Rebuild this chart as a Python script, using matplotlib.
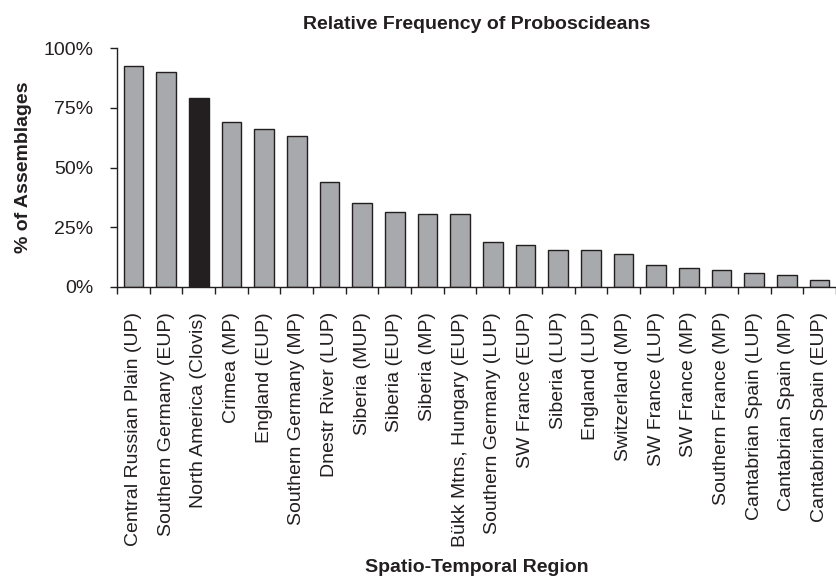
import matplotlib
matplotlib.use('Agg')
import matplotlib.pyplot as plt
import numpy as np

regions = ['Central Russian Plain (UP)', 'Southern Germany (EUP)', 'North America (Clovis)',
           'Crimea (MP)', 'England (EUP)', 'Southern Germany (MP)', 'Dnestr River (LUP)',
           'Siberia (MUP)', 'Siberia (EUP)', 'Siberia (MP)', 'Bükk Mtns, Hungary (EUP)',
           'Southern Germany (LUP)', 'SW France (EUP)', 'Siberia (LUP)', 'England (LUP)',
           'Switzerland (MP)', 'SW France (LUP)', 'SW France (MP)', 'Southern France (MP)',
           'Cantabrian Spain (LUP)', 'Cantabrian Spain (MP)', 'Cantabrian Spain (EUP)']
freq = [92.7, 90.0, 79.1, 69.1, 66.3, 63.3, 43.9, 35.2, 31.6, 30.4, 30.4,
        18.8, 17.4, 15.3, 15.3, 13.7, 9.4, 8.0, 7.3, 5.9, 5.0, 2.9]
highlight = 'North America (Clovis)'

plt.rcParams['font.family'] = ['Liberation Sans', 'DejaVu Sans']
ink = '#231f20'

fig = plt.figure(figsize=(8.37, 5.78), dpi=100)
ax = fig.add_axes([117 / 837, 1 - 287 / 578, 719 / 837, (287 - 48.3) / 578])

x = np.arange(len(regions))
colors = [ink if r == highlight else '#a7a9ac' for r in regions]
ax.bar(x, freq, width=0.6, color=colors, edgecolor=ink, linewidth=1.0, zorder=2)

ax.set_xlim(-0.5, len(regions) - 0.5)
ax.set_ylim(0, 100)
ax.set_yticks([0, 25, 50, 75, 100])
ax.set_yticklabels(['0%', '25%', '50%', '75%', '100%'])
ax.set_xticks(x)
ax.set_xticklabels(regions, rotation=90)
# category boundaries get the little tick marks
ax.set_xticks(np.arange(len(regions) + 1) - 0.5, minor=True)

ax.tick_params(axis='x', which='major', length=0, pad=18, labelsize=14, colors=ink)
ax.tick_params(axis='x', which='minor', length=5, width=1, direction='out', color=ink)
ax.tick_params(axis='y', length=5, width=1, direction='out', pad=12, labelsize=14, colors=ink)

for s in ['top', 'right']:
    ax.spines[s].set_visible(False)
for s in ['left', 'bottom']:
    ax.spines[s].set_color(ink)
    ax.spines[s].set_linewidth(1)

ax.set_title('Relative Frequency of Proboscideans', fontsize=14, fontweight='bold', pad=14, color=ink)
ax.set_ylabel('% of Assemblages', fontsize=14, fontweight='bold', labelpad=8, color=ink)
ax.set_xlabel('Spatio-Temporal Region', fontsize=14, fontweight='bold', labelpad=9, color=ink)

fig.savefig('out.png', dpi=100)
